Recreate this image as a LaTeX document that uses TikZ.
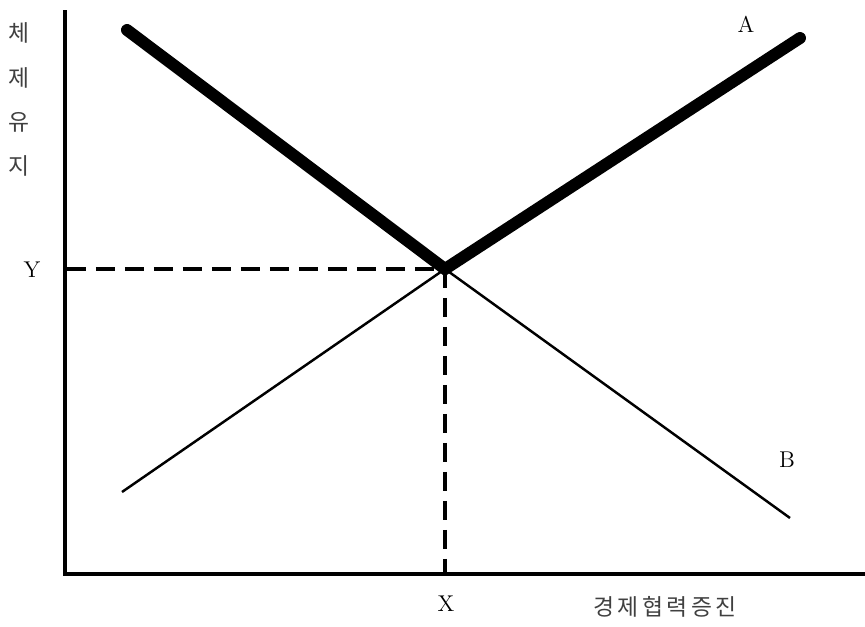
\documentclass[tikz,border=0pt]{standalone}
\usepackage{fontspec}
\newfontfamily\kor{Noto Sans CJK KR}
\usetikzlibrary{calc}

\begin{document}
\begin{tikzpicture}[x=0.02cm, y=-0.02cm,
  axisline/.style={line width=2.3pt},
  heavy/.style={line width=6.8pt, line cap=round},
  light/.style={line width=1.4pt},
  guide/.style={line width=2.3pt, dash pattern=on 11pt off 5.5pt},
  lbl/.style={font=\fontsize{13}{15}\selectfont},
  klbl/.style={font=\kor\fontsize{13}{15}\selectfont, text=black!75}]
  \useasboundingbox (0,0) rectangle (865,626);
  \coordinate (O) at (65,574);
  \coordinate (T) at (65,10);
  \coordinate (R) at (865,574);
  \coordinate (P) at (445,269);
  \coordinate (A1) at (127,30);
  \coordinate (A2) at (800,38);
  \coordinate (B1) at (122,492);
  \coordinate (B2) at (790,518);
  \coordinate (Py) at (67,269);
  \coordinate (Px) at (445,572);
  % 축
  \draw[axisline] (T) -- (O) -- (R);
  % 점선
  \draw[guide] (Py) -- (P);
  \draw[guide] (P) -- (Px);
  \draw[light] (B1) -- (P);
  \draw[light] (P) -- (B2);
  \draw[heavy] (A1) -- (P) -- (A2);
  \node[lbl] (la) at (746,24) {A};
  \node[lbl] (lb) at (787,460) {B};
  \node[lbl] (ly) at (32,270) {Y};
  \node[lbl] (lx) at (446,604) {X};
  \node[klbl] (lxn) at (665,607) {경\kern2pt 제\kern2pt 협\kern2pt 력\kern2pt 증\kern2pt 진};
  \foreach \t/\yy in {체/33, 제/78, 유/122, 지/166}
    \node[klbl] at (19,\yy) {\t};
\end{tikzpicture}
\end{document}
